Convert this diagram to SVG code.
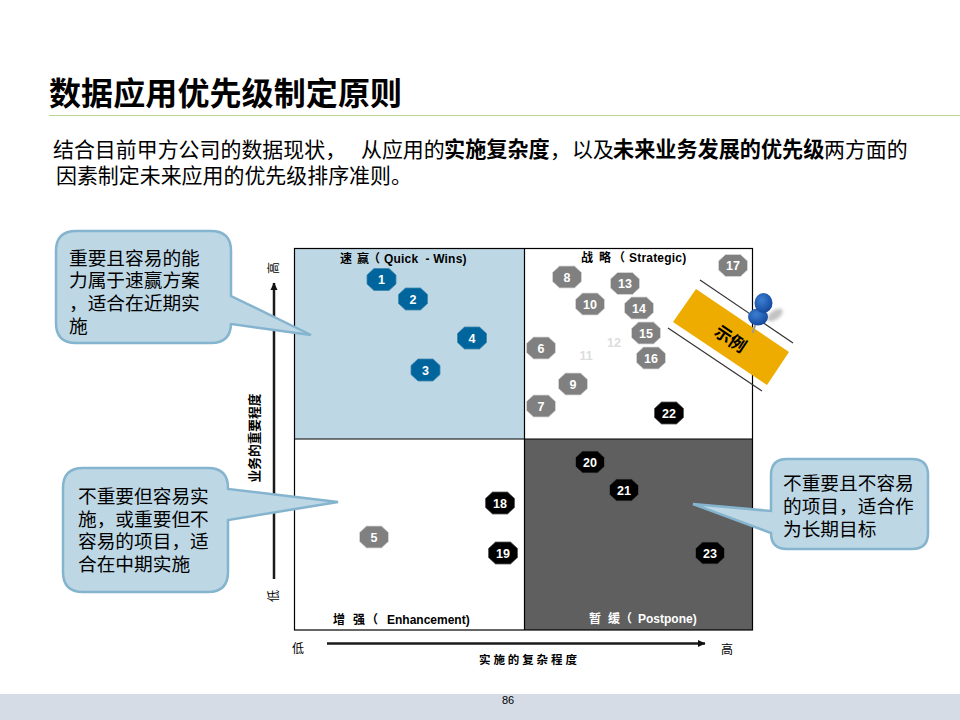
<svg xmlns="http://www.w3.org/2000/svg" width="960" height="720" viewBox="0 0 960 720">
<style>
text{font-family:"Liberation Sans","Noto Sans CJK SC",sans-serif;fill:#000;white-space:pre}
.cjk{font-family:"Noto Sans CJK SC",sans-serif}
.title{font-size:32px;font-weight:700;letter-spacing:.1px}
.body{font-size:20.950px}
.bb{font-size:21.150px;font-weight:700}
.b{font-weight:700}
.call{font-size:18.7px}
.q{font-size:12px;font-weight:700}
.ax{font-size:12px}
.n{font-size:12.500px;font-weight:700;text-anchor:middle;fill:#fff}
.blue{fill:#00659c;stroke:#3d86ad;stroke-width:.8}
.gray{fill:#808080;stroke:#d8d8d8;stroke-width:.8}
.black{fill:#000;stroke:#555;stroke-width:.8}
.bub{fill:#bed7e5;stroke:#84b4ce;stroke-width:2.5}
.axis{stroke:#1a1a1a;stroke-width:2.500;fill:none}
</style>
<defs>
<polygon id="oct" points="-7.500,-11 7.500,-11 14.500,-4.500 14.500,4.500 7.500,11 -7.500,11 -14.500,4.500 -14.500,-4.500"/>
<marker id="ah" markerUnits="userSpaceOnUse" markerWidth="10" markerHeight="10" refX="7" refY="4" orient="auto"><path d="M0,0.500L7.500,4L0,7.500Z" fill="#111"/></marker>
<radialGradient id="pin" cx=".4" cy=".35" r=".7"><stop offset="0" stop-color="#3b7fd0"/><stop offset="1" stop-color="#12459a"/></radialGradient>
<filter id="soft" x="-50%" y="-50%" width="200%" height="200%"><feGaussianBlur stdDeviation="1.500"/></filter>
</defs>
<rect x="0" y="0" width="960" height="720" fill="#fff"/>
<rect x="0" y="694" width="960" height="26" fill="#d5dce6"/>
<text x="508" y="704" font-size="11" text-anchor="middle">86</text>

<text class="title cjk" x="49" y="105">数据应用优先级制定原则</text>
<line x1="49" y1="115.500" x2="960" y2="115.500" stroke="#b9d88f" stroke-width="1"/>
<g>
<text class="body cjk" x="53" y="157">结合目前甲方公司的数据现状，</text>
<text class="body cjk" x="361" y="157">从应用的</text>
<text class="bb cjk" x="444" y="157">实施复杂度</text>
<text class="body cjk" x="550" y="157">，</text>
<text class="body cjk" x="572" y="157">以及</text>
<text class="bb cjk" x="613" y="157">未来业务发展的优先级</text>
<text class="body cjk" x="824" y="157">两方面的</text>
<text class="body cjk" x="56" y="183">因素制定未来应用的优先级排序准则。</text>
</g>

<g id="matrix">
<rect x="294.500" y="248.500" width="230" height="190.500" fill="#bed7e5"/>
<rect x="524.500" y="439" width="228" height="191" fill="#5f5f5f"/>
<rect x="294.500" y="248.500" width="458" height="381.500" fill="none" stroke="#000" stroke-width="1.200"/>
<line x1="524.500" y1="248.500" x2="524.500" y2="630" stroke="#000" stroke-width="1.200"/>
<line x1="294.500" y1="439" x2="752.500" y2="439" stroke="#000" stroke-width="1.200"/>
<text class="q" y="263"><tspan class="cjk" x="340 352 357 368">速 赢（</tspan><tspan x="384" letter-spacing=".2">Quick  - Wins)</tspan></text>
<text class="q" y="262"><tspan class="cjk" x="581 593 599 613">战 略（</tspan><tspan x="629" letter-spacing=".2">Strategic)</tspan></text>
<text class="q" y="624"><tspan class="cjk" x="333 345 353 365 366">增 强 （</tspan><tspan x="387">Enhancement)</tspan></text>
<text class="q" y="623" style="fill:#fff"><tspan class="cjk" style="fill:#fff" x="589 601 608 620 620">暂 缓 （</tspan><tspan x="638">Postpone)</tspan></text>
</g>

<g id="connectors">
<line class="axis" x1="274" y1="579" x2="274" y2="283" marker-end="url(#ah)"/>
<line class="axis" x1="327" y1="643.500" x2="705" y2="643.500" marker-end="url(#ah)"/>
</g>
<g id="axis-labels">
<text class="cjk b" font-size="12.700" transform="translate(259,438) rotate(-90)" text-anchor="middle">业务的重要程度</text>
<text class="cjk ax" transform="translate(278,268) rotate(-90)" text-anchor="middle">高</text>
<text class="cjk ax" transform="translate(278,596) rotate(-90)" text-anchor="middle">低</text>
<text class="cjk ax" x="298" y="653" text-anchor="middle">低</text>
<text class="cjk ax" x="727" y="654" text-anchor="middle">高</text>
<text class="cjk b" font-size="11.500" x="479" y="664" letter-spacing="2.900">实施的复杂程度</text>
</g>

<g id="n1"><use href="#oct" class="blue" x="381.500" y="279.500"/><text class="n" x="381.500" y="284">1</text></g>
<g id="n2"><use href="#oct" class="blue" x="413" y="299"/><text class="n" x="413" y="303.500">2</text></g>
<g id="n3"><use href="#oct" class="blue" x="425.500" y="370"/><text class="n" x="425.500" y="374.500">3</text></g>
<g id="n4"><use href="#oct" class="blue" x="472" y="338"/><text class="n" x="472" y="342.500">4</text></g>
<g id="n5"><use href="#oct" class="gray" x="374" y="537"/><text class="n" x="374" y="541.500">5</text></g>
<g id="n6"><use href="#oct" class="gray" x="541" y="348"/><text class="n" x="541" y="352.500">6</text></g>
<g id="n7"><use href="#oct" class="gray" x="541" y="406"/><text class="n" x="541" y="410.500">7</text></g>
<g id="n8"><use href="#oct" class="gray" x="567" y="277"/><text class="n" x="567" y="281.500">8</text></g>
<g id="n9"><use href="#oct" class="gray" x="573" y="384"/><text class="n" x="573" y="388.500">9</text></g>
<g id="n10"><use href="#oct" class="gray" x="590" y="304"/><text class="n" x="590" y="308.500">10</text></g>
<g id="n11"><text class="n" x="586" y="360" style="fill:#ddd">11</text></g>
<g id="n12"><text class="n" x="614" y="347" style="fill:#ddd">12</text></g>
<g id="n13"><use href="#oct" class="gray" x="625" y="283.500"/><text class="n" x="625" y="288">13</text></g>
<g id="n14"><use href="#oct" class="gray" x="639" y="308"/><text class="n" x="639" y="312.500">14</text></g>
<g id="n15"><use href="#oct" class="gray" x="646" y="333"/><text class="n" x="646" y="337.500">15</text></g>
<g id="n16"><use href="#oct" class="gray" x="651" y="358"/><text class="n" x="651" y="362.500">16</text></g>
<g id="n17"><use href="#oct" class="gray" x="733" y="265.500"/><text class="n" x="733" y="270">17</text></g>
<g id="n18"><use href="#oct" class="black" x="500" y="503"/><text class="n" x="500" y="507.500">18</text></g>
<g id="n19"><use href="#oct" class="black" x="503" y="553"/><text class="n" x="503" y="557.500">19</text></g>
<g id="n20"><use href="#oct" class="black" x="590" y="462"/><text class="n" x="590" y="466.500">20</text></g>
<g id="n21"><use href="#oct" class="black" x="624" y="490"/><text class="n" x="624" y="494.500">21</text></g>
<g id="n22"><use href="#oct" class="black" x="669" y="413"/><text class="n" x="669" y="417.500">22</text></g>
<g id="n23"><use href="#oct" class="black" x="710" y="553"/><text class="n" x="710" y="557.500">23</text></g>

<g id="example-tag">
<line x1="700" y1="280" x2="793" y2="343" stroke="#333" stroke-width="1.200"/>
<line x1="668" y1="328" x2="762" y2="391" stroke="#333" stroke-width="1.200"/>
<polygon points="696,289 789,352 767,385 673,322" fill="#efac00"/>
<text class="cjk b" font-size="17" text-anchor="middle" transform="translate(727,344) rotate(34)">示例</text>
<ellipse cx="775" cy="315" rx="9" ry="4.500" fill="#aaa" opacity=".7" filter="url(#soft)" transform="rotate(-35 775 315)"/>
<line x1="752.500" y1="333" x2="757" y2="320" stroke="#9a9a9a" stroke-width="2"/>
<line x1="759" y1="316" x2="764" y2="303" stroke="#15489c" stroke-width="10"/>
<ellipse cx="758" cy="317" rx="10" ry="8.500" fill="url(#pin)"/>
<ellipse cx="763.500" cy="303" rx="9" ry="10" fill="url(#pin)"/>
</g>

<g id="callout-1">
<path class="bub" d="M76,231H211Q231,231 231,251V296L311,335L231,324V323Q231,343 211,343H76Q56,343 56,323V251Q56,231 76,231Z"/>
<text class="call cjk" x="69" y="265">重要且容易的能</text>
<text class="call cjk" x="69" y="287">力属于速赢方案</text>
<text class="call cjk" x="69" y="310">，适合在近期实</text>
<text class="call cjk" x="69" y="333">施</text>
</g>
<g id="callout-2">
<path class="bub" d="M83,468H208Q228,468 228,488V489L338,502L228,520V572Q228,592 208,592H83Q63,592 63,572V488Q63,468 83,468Z"/>
<text class="call cjk" x="78" y="503">不重要但容易实</text>
<text class="call cjk" x="78" y="526">施，或重要但不</text>
<text class="call cjk" x="78" y="548">容易的项目，适</text>
<text class="call cjk" x="78" y="571">合在中期实施</text>
</g>
<g id="callout-3">
<path class="bub" d="M787,459H912Q928,459 928,475V533Q928,549 912,549H787Q771,549 771,533L693,504L771,511V475Q771,459 787,459Z"/>
<text class="call cjk" x="783" y="490">不重要且不容易</text>
<text class="call cjk" x="783" y="513">的项目，适合作</text>
<text class="call cjk" x="783" y="536">为长期目标</text>
</g>
</svg>
